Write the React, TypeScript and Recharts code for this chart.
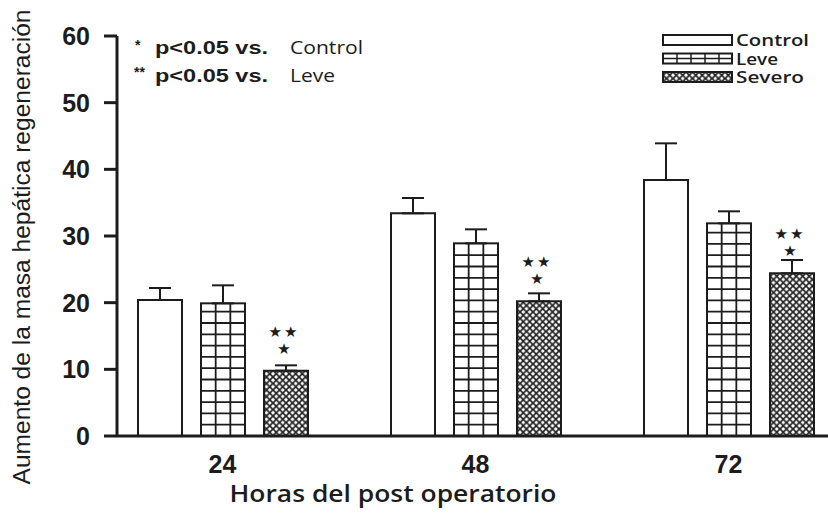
import React from 'react'
import { Bar, BarChart, ErrorBar, Label, LabelList, Legend, XAxis, YAxis } from 'recharts'

// hours after surgery
const horas = ['24', '48', '72']

// mean liver mass increase per group, and upper SEM
const control = [20.4, 33.4, 38.4]
const controlErr = [1.8, 2.3, 5.5]
const leve = [19.9, 28.9, 31.9]
const leveErr = [2.7, 2.1, 1.8]
const severo = [9.8, 20.2, 24.4]
const severoErr = [0.8, 1.2, 2.0]

// significance marks on the severo bars
const sigLeve = ['**', '**', '**']
const sigControl = ['*', '*', '*']

const yTicks = [0, 10, 20, 30, 40, 50, 60]

const INK = '#1c1c1c'

const data = horas.map((h, i) => ({
    hora: h,
    control: control[i],
    controlErr: [0, controlErr[i]],
    leve: leve[i],
    leveErr: [0, leveErr[i]],
    severo: severo[i],
    severoErr: [0, severoErr[i]],
    sig: sigLeve[i] + '|' + sigControl[i],
}))

// grid-hatched bar (Leve)
const GridBar = (props: any) => {
    const { x, y, width, height } = props
    if (!height || height <= 0) return null
    const step = 11.3
    const rows: number[] = []
    for (let yy = y + height - step; yy > y + 2; yy -= step) rows.push(yy)
    return (
        <g>
            <rect x={x} y={y} width={width} height={height} fill="#fff" stroke={INK} strokeWidth={2} />
            {rows.map((yy, i) => (
                <line key={i} x1={x} x2={x + width} y1={yy} y2={yy} stroke={INK} strokeWidth={1.8} />
            ))}
            <line x1={x + width / 3} x2={x + width / 3} y1={y} y2={y + height} stroke={INK} strokeWidth={1.8} />
            <line x1={x + (2 * width) / 3} x2={x + (2 * width) / 3} y1={y} y2={y + height} stroke={INK} strokeWidth={1.8} />
        </g>
    )
}

const Stars = (props: any) => {
    const { x, y, width, value } = props
    if (!value) return null
    const [top, bottom] = String(value).split('|')
    const cx = x + width / 2 - 2
    return (
        <g fill={INK} fontFamily="DejaVu Sans" fontSize={15} textAnchor="middle">
            <text x={cx} y={y - 34} letterSpacing={2}>{top.replace(/\*/g, '★')}</text>
            <text x={cx} y={y - 17}>{bottom.replace(/\*/g, '★')}</text>
        </g>
    )
}

const XTick = (props: any) => {
    const { x, y, payload } = props
    return (
        <text x={x} y={y + 37} textAnchor="middle" fill={INK} fontFamily="Liberation Sans" fontWeight="bold" fontSize={25}>
            {payload.value}
        </text>
    )
}

const LEGEND_WIDTHS: Record<string, number> = { control: 73, leve: 42, severo: 68 }

const LegendBox = (props: any) => {
    const items = props.payload || []
    return (
        <svg width={166} height={80} style={{ display: 'block' }}>
            {items.map((it: any, i: number) => {
                const by = 15 + i * 18.5
                const key = it.dataKey
                return (
                    <g key={key}>
                        <rect x={3} y={by} width={69} height={10}
                            fill={key === 'severo' ? 'url(#cross)' : '#fff'} stroke={INK} strokeWidth={2} />
                        {key === 'leve' && (
                            <g stroke={INK} strokeWidth={1.5}>
                                <line x1={3} x2={72} y1={by + 5} y2={by + 5} />
                                {[17, 31, 45, 59].map((lx) => (
                                    <line key={lx} x1={lx} x2={lx} y1={by} y2={by + 10} />
                                ))}
                            </g>
                        )}
                        <text x={76} y={by + 11} fill={INK} fontFamily="Open Sans" fontWeight={600} fontSize={17}
                            textLength={LEGEND_WIDTHS[key]} lengthAdjust="spacingAndGlyphs">
                            {it.value}
                        </text>
                    </g>
                )
            })}
        </svg>
    )
}

const App = () => {
    return (
        <div style={{ position: 'absolute', left: 0, top: 0, width: 828, height: 513, background: '#fff' }}>
            <BarChart width={828} height={513} data={data} margin={{ top: 36, right: 0, left: 0, bottom: 0 }}
                barSize={44} barGap={19}>
                <defs>
                    <pattern id="cross" width="6.5" height="6.5" patternUnits="userSpaceOnUse">
                        <rect width="6.5" height="6.5" fill="#fff" />
                        <path d="M0,0 L6.5,6.5 M6.5,0 L0,6.5" stroke="#262626" strokeWidth={1.8} />
                    </pattern>
                </defs>
                <XAxis dataKey="hora" height={77} tickLine={false} tickSize={0} tickMargin={0}
                    padding={{ left: -21, right: -27 }} tick={<XTick />}
                    axisLine={{ stroke: INK, strokeWidth: 3 }}>
                    <Label content={() => (
                        <text x={393} y={502} textAnchor="middle" fill={INK} fontFamily="Open Sans" fontWeight={600}
                            fontSize={24} textLength={327} lengthAdjust="spacingAndGlyphs">
                            Horas del post operatorio
                        </text>
                    )} />
                </XAxis>
                <YAxis domain={[0, 60]} ticks={yTicks} interval={0} width={117} tickSize={13} tickMargin={14}
                    axisLine={{ stroke: INK, strokeWidth: 3 }} tickLine={{ stroke: INK, strokeWidth: 3 }}
                    tick={{ fill: INK, fontSize: 25, fontWeight: 'bold', fontFamily: 'Liberation Sans' }}>
                    <Label content={() => (
                        <text x={0} y={0} transform="translate(30,247) rotate(-90)" textAnchor="middle" fill={INK}
                            fontFamily="Liberation Sans" fontSize={23} textLength={475} lengthAdjust="spacingAndGlyphs">
                            Aumento de la masa hepática regeneración
                        </text>
                    )} />
                </YAxis>
                <Legend layout="horizontal" verticalAlign="middle" align="center" content={<LegendBox />}
                    wrapperStyle={{ position: 'absolute', left: 660, top: 20, width: 166, height: 80 }} />
                <Bar dataKey="control" name="Control" fill="#fff" stroke={INK} strokeWidth={2} isAnimationActive={false}>
                    <ErrorBar dataKey="controlErr" width={11} stroke={INK} strokeWidth={2} />
                </Bar>
                <Bar dataKey="leve" name="Leve" fill="#fff" stroke={INK} shape={<GridBar />} isAnimationActive={false}>
                    <ErrorBar dataKey="leveErr" width={11} stroke={INK} strokeWidth={2} />
                </Bar>
                <Bar dataKey="severo" name="Severo" fill="url(#cross)" stroke={INK} strokeWidth={2} isAnimationActive={false}>
                    <ErrorBar dataKey="severoErr" width={11} stroke={INK} strokeWidth={2} />
                    <LabelList dataKey="sig" content={<Stars />} />
                </Bar>
            </BarChart>
            <svg width={828} height={100} style={{ position: 'absolute', left: 0, top: 0, pointerEvents: 'none' }}>
                <g fill={INK}>
                    <text x={135} y={50} fontFamily="Liberation Sans" fontWeight="bold" fontSize={14}>*</text>
                    <text x={155} y={54} fontFamily="Liberation Sans" fontWeight="bold" fontSize={18}
                        textLength={113} lengthAdjust="spacingAndGlyphs">p&lt;0.05 vs.</text>
                    <text x={290} y={54} fontFamily="Open Sans" fontSize={18} textLength={73}
                        lengthAdjust="spacingAndGlyphs">Control</text>
                    <text x={134} y={77} fontFamily="Liberation Sans" fontWeight="bold" fontSize={14}>**</text>
                    <text x={155} y={82} fontFamily="Liberation Sans" fontWeight="bold" fontSize={18}
                        textLength={113} lengthAdjust="spacingAndGlyphs">p&lt;0.05 vs.</text>
                    <text x={290} y={82} fontFamily="Open Sans" fontSize={18} textLength={45}
                        lengthAdjust="spacingAndGlyphs">Leve</text>
                </g>
            </svg>
        </div>
    )
}

export default App
